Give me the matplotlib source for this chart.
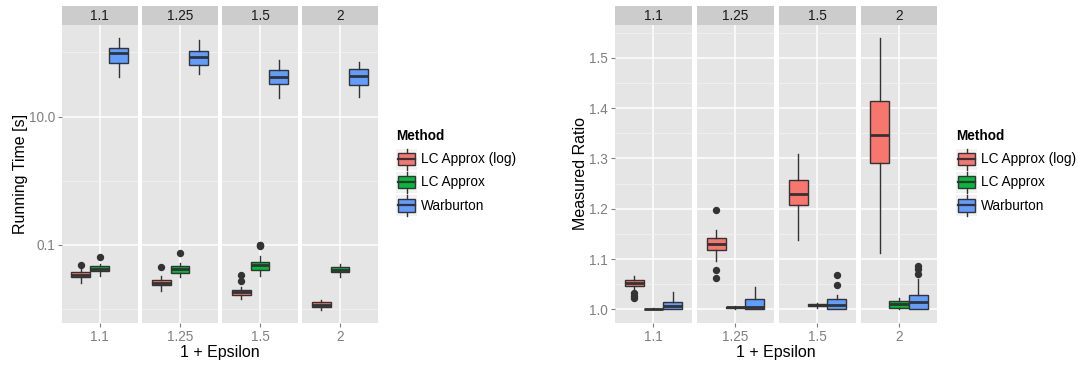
import matplotlib
matplotlib.use("Agg")
import matplotlib.pyplot as plt
from matplotlib.ticker import FixedLocator, NullFormatter
from matplotlib.legend_handler import HandlerBase
from matplotlib.patches import Rectangle, Patch
from matplotlib.lines import Line2D

plt.rcParams["font.family"] = ["Liberation Sans", "DejaVu Sans"]

eps_labels = ["1.1", "1.25", "1.5", "2"]
methods = ["LC Approx (log)", "LC Approx", "Warburton"]
colors = ["#F8766D", "#00BA38", "#619CFF"]

# box stats per epsilon: [whisker low, q1, median, q3, whisker high]
time_lc_log = [[0.0257, 0.031, 0.0337, 0.0376, 0.0444],
               [0.0193, 0.0233, 0.0257, 0.0282, 0.0322],
               [0.0145, 0.0163, 0.0182, 0.020, 0.0217],
               [0.0098, 0.0109, 0.0117, 0.0129, 0.014]]
time_lc_log_out = [[0.049], [0.0449], [0.0269, 0.0333], []]
time_lc = [[0.033, 0.0394, 0.0413, 0.0472, 0.050],
           [0.0314, 0.0367, 0.0413, 0.046, 0.0525],
           [0.033, 0.0409, 0.049, 0.0537, 0.066],
           [0.0319, 0.0371, 0.0409, 0.0455, 0.050]]
time_lc_out = [[0.065], [0.074], [0.0965, 0.098, 0.1], []]
time_warburton = [[41.6, 68.8, 97.5, 115, 165],
                  [45.3, 64, 84.5, 104.8, 155.7],
                  [19.5, 32, 41.6, 52.8, 75.8],
                  [20.2, 31.2, 43, 54.8, 70.5]]
time_warburton_out = [[], [], [], []]

ratio_lc_log = [[1.0386, 1.0458, 1.0518, 1.0578, 1.0665],
                [1.0956, 1.117, 1.1295, 1.1414, 1.158],
                [1.1369, 1.2066, 1.229, 1.2578, 1.3096],
                [1.1116, 1.2908, 1.3474, 1.4131, 1.5386]]
ratio_lc_log_out = [[1.0227, 1.0273, 1.0327], [1.0625, 1.079, 1.1966], [], []]
ratio_lc = [[1.0, 1.0, 1.0, 1.001, 1.002],
            [1.0, 1.002, 1.004, 1.005, 1.007],
            [1.002, 1.006, 1.008, 1.010, 1.013],
            [1.0, 1.0028, 1.0108, 1.0173, 1.022]]
ratio_lc_out = [[], [], [], []]
ratio_warburton = [[1.0, 1.0, 1.006, 1.014, 1.0347],
                   [1.0, 1.0, 1.004, 1.0207, 1.045],
                   [1.0, 1.0, 1.008, 1.0199, 1.0287],
                   [1.0, 1.0, 1.0147, 1.0287, 1.0606]]
ratio_warburton_out = [[], [], [1.0486, 1.069], [1.0697, 1.0805, 1.0857]]

W, H = 1078, 365
fig = plt.figure(figsize=(W / 100, H / 100), dpi=100)

EDGE = "#333333"
TICKCOL = "#7F7F7F"


def px_axes(x0, y0, x1, y1):
    return fig.add_axes([x0 / W, 1 - y1 / H, (x1 - x0) / W, (y1 - y0) / H])


def draw_facets(panels_x, series, outliers, log, ylim, yticks, yticklabels, minor, ylabel, xcenter):
    for j, (x0, x1) in enumerate(panels_x):
        strip = px_axes(x0, 6, x1, 25)
        strip.set_facecolor("#CCCCCC")
        strip.set_xticks([])
        strip.set_yticks([])
        for s in strip.spines.values():
            s.set_visible(False)
        strip.text(0.5, 0.45, eps_labels[j], ha="center", va="center", fontsize=9.8, color="#1A1A1A",
                   transform=strip.transAxes)

        ax = px_axes(x0, 25, x1, 322.7)
        ax.set_facecolor("#E5E5E5")
        for s in ax.spines.values():
            s.set_visible(False)
        if log:
            ax.set_yscale("log")
        ax.set_xlim(0.4, 1.6)
        ax.set_ylim(*ylim)
        ax.yaxis.set_major_locator(FixedLocator(yticks))
        ax.yaxis.set_minor_locator(FixedLocator(minor))
        ax.yaxis.set_minor_formatter(NullFormatter())
        ax.set_xticks([1])
        ax.set_xticklabels([eps_labels[j]])
        ax.grid(True, which="major", color="white", linewidth=1.1)
        ax.grid(True, which="minor", axis="y", color="#F2F2F2", linewidth=0.6)
        ax.set_axisbelow(True)
        ax.tick_params(axis="both", which="major", length=3, width=0.8, color=TICKCOL,
                       labelcolor=TICKCOL, labelsize=9.8, pad=2)
        ax.tick_params(axis="y", which="minor", length=0)
        if j == 0:
            ax.set_yticklabels(yticklabels)
            ax.set_ylabel(ylabel, fontsize=11.5, labelpad=0.5)
        else:
            ax.tick_params(axis="y", which="major", length=0, labelleft=False)

        for i in range(3):
            q = series[i][j]
            stats = [{"whislo": q[0], "q1": q[1], "med": q[2], "q3": q[3], "whishi": q[4],
                      "fliers": outliers[i][j]}]
            ax.bxp(stats, positions=[1 + (i - 1) * 0.3], widths=0.3, patch_artist=True,
                   showcaps=False, manage_ticks=False,
                   boxprops=dict(facecolor=colors[i], edgecolor=EDGE, linewidth=1.0),
                   medianprops=dict(color=EDGE, linewidth=2.0),
                   whiskerprops=dict(color=EDGE, linewidth=1.0),
                   flierprops=dict(marker="o", markerfacecolor=EDGE, markeredgecolor=EDGE, markersize=4.3))
    fig.text(xcenter / W, 1 - 352 / H, "1 + Epsilon", ha="center", va="center", fontsize=11.5)


class BoxKey(HandlerBase):
    def create_artists(self, legend, orig_handle, xdescent, ydescent, width, height, fontsize, trans):
        x0, y0 = -xdescent, -ydescent
        bg = Rectangle((x0, y0), width, height, facecolor="#F2F2F2", edgecolor="none", transform=trans)
        wl = Line2D([x0 + width / 2] * 2, [y0, y0 + height], color=EDGE, linewidth=1.0, transform=trans)
        box = Rectangle((x0 + 0.1 * width, y0 + 0.2 * height), 0.8 * width, 0.6 * height,
                        facecolor=orig_handle.get_facecolor(), edgecolor=EDGE, linewidth=1.0, transform=trans)
        med = Line2D([x0 + 0.1 * width, x0 + 0.9 * width], [y0 + height / 2] * 2, color=EDGE,
                     linewidth=1.6, transform=trans)
        return [bg, wl, box, med]


def add_legend(x, y):
    handles = [Patch(facecolor=c) for c in colors]
    leg = fig.legend(handles, methods, loc="upper left", bbox_to_anchor=(x / W, 1 - y / H),
                     handler_map={Patch: BoxKey()}, frameon=False, fontsize=9.8,
                     title="Method", title_fontproperties={"weight": "bold", "size": 9.8},
                     alignment="left", borderpad=0, borderaxespad=0, handlelength=1.55, handleheight=2.0,
                     labelspacing=0.15, handletextpad=0.3)
    leg._legend_box.sep = 4


# left: running time (log scale)
left_panels = [(62, 137.7), (142.3, 217.7), (222.3, 297.7), (302.3, 377.7)]
draw_facets(left_panels, [time_lc_log, time_lc, time_warburton],
            [time_lc_log_out, time_lc_out, time_warburton_out],
            True, (10 ** -2.214, 10 ** 2.427), [0.1, 10], ["0.1", "10.0"], [0.01, 1, 100],
            "Running Time [s]", 220)
add_legend(396, 129)

# right: measured ratio
right_panels = [(615, 691.7), (697, 773.7), (779, 855.7), (860.5, 937.5)]
draw_facets(right_panels, [ratio_lc_log, ratio_lc, ratio_warburton],
            [ratio_lc_log_out, ratio_lc_out, ratio_warburton_out],
            False, (0.9735, 1.565), [1.0, 1.1, 1.2, 1.3, 1.4, 1.5],
            ["1.0", "1.1", "1.2", "1.3", "1.4", "1.5"], [1.05, 1.15, 1.25, 1.35, 1.45, 1.55],
            "Measured Ratio", 776)
add_legend(956, 129)

fig.savefig("out.png", dpi=100)
